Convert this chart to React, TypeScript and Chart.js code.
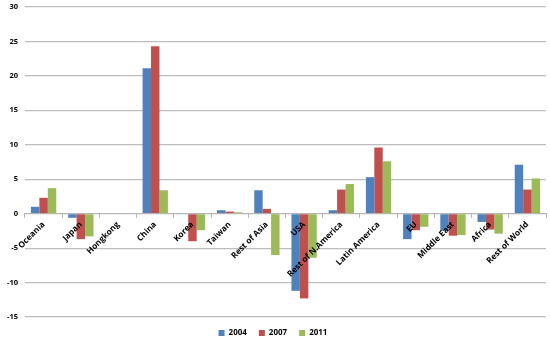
import React, { useEffect, useRef } from "react";
import { Chart, registerables } from "chart.js";

Chart.register(...registerables);

const categories = [
  "Oceania", "Japan", "Hongkong", "China", "Korea", "Taiwan", "Rest of Asia",
  "USA", "Rest of N.America", "Latin America", "EU", "Middle East", "Africa", "Rest of World",
];
const series2004 = [1.0, -0.6, 0, 21.1, 0.1, 0.5, 3.4, -11.2, 0.5, 5.3, -3.7, -2.5, -1.2, 7.1];
const series2007 = [2.3, -3.7, 0, 24.3, -4.0, 0.3, 0.7, -12.3, 3.5, 9.6, -2.4, -3.2, -2.3, 3.5];
const series2011 = [3.7, -3.3, 0, 3.4, -2.4, 0.2, -6.0, -6.4, 4.3, 7.6, -1.9, -3.1, -2.9, 5.1];
const yTicks = [30, 25, 20, 15, 10, 5, 0, -5, -10, -15];

const FONT = "'Open Sans', 'DejaVu Sans', sans-serif";

export default function App() {
  const ref = useRef<HTMLCanvasElement>(null);
  useEffect(() => {
    if (!ref.current) return;
    const chart = new Chart(ref.current, {
      type: "bar",
      data: {
        labels: categories,
        datasets: [
          { label: "2004", data: series2004, backgroundColor: "#4F81BD" },
          { label: "2007", data: series2007, backgroundColor: "#C0504D" },
          { label: "2011", data: series2011, backgroundColor: "#9BBB59" },
        ],
      },
      options: {
        animation: false,
        responsive: true,
        maintainAspectRatio: false,
        layout: { padding: { top: 7, right: 4, left: 0, bottom: -10 } },
        datasets: { bar: { categoryPercentage: 0.68, barPercentage: 1.0 } },
        plugins: {
          legend: {
            position: "bottom",
            labels: {
              boxWidth: 6,
              boxHeight: 6,
              padding: 12,
              color: "#000",
              font: { family: FONT, size: 8, weight: "bold" },
            },
          },
          tooltip: { enabled: false },
        },
        scales: {
          x: {
            position: { y: 0 },
            afterFit: (scale: any) => {
              scale.height = 0;
            },
            grid: {
              display: true,
              drawOnChartArea: false,
              drawTicks: true,
              tickLength: 4,
              color: "#b5b5b5",
              offset: true,
            },
            border: { display: true, color: "#b5b5b5" },
            ticks: {
              z: 1,
              minRotation: 45,
              maxRotation: 45,
              autoSkip: false,
              padding: 2,
              color: "#000",
              font: { family: FONT, size: 8.3, weight: "bold" },
            },
          },
          y: {
            min: -15,
            max: 30,
            afterBuildTicks: (scale: any) => {
              scale.ticks = yTicks.map((v) => ({ value: v }));
            },
            afterFit: (scale: any) => {
              scale.paddingTop = 0;
              scale.paddingBottom = 0;
            },
            grid: { color: "#bdbdbd", lineWidth: 1.2, drawTicks: false },
            border: { display: false },
            ticks: {
              padding: 7,
              color: "#000",
              font: { family: FONT, size: 7.5, weight: "bold" },
            },
          },
        },
      },
    });
    return () => chart.destroy();
  }, []);
  return (
    <div style={{ position: "fixed", left: 0, top: 0, width: 550, height: 337, background: "#fff" }}>
      <canvas ref={ref} />
    </div>
  );
}
